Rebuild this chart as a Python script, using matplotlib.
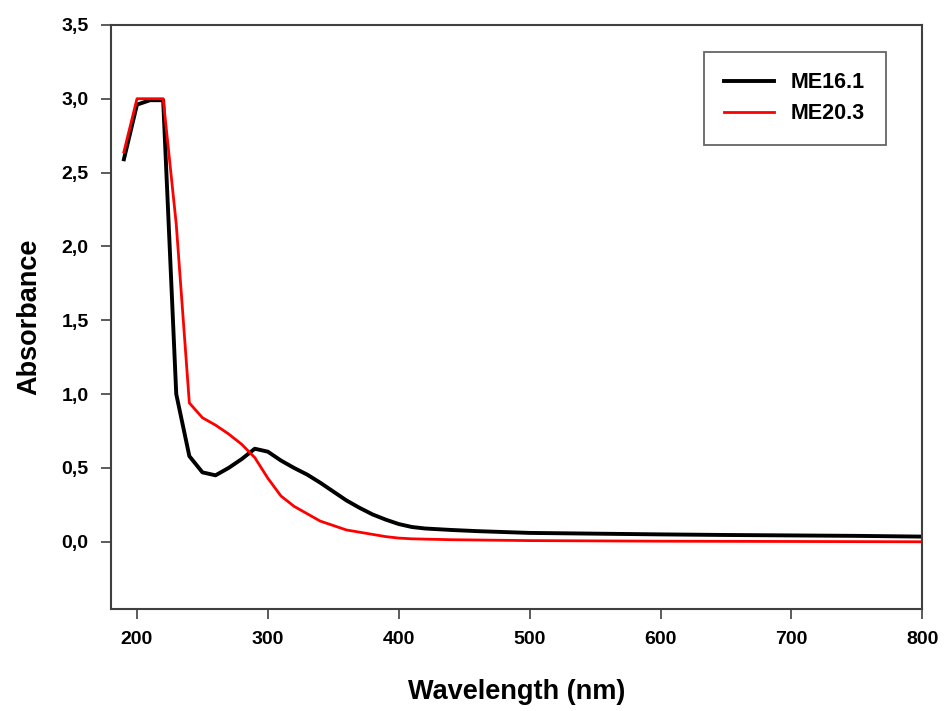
import matplotlib
matplotlib.use("Agg")
import matplotlib.pyplot as plt
from matplotlib.ticker import FuncFormatter

plt.rcParams['font.family'] = ['Liberation Sans', 'DejaVu Sans']
plt.rcParams['font.weight'] = 'bold'

# wavelength (nm) and absorbance
wl = [190, 200, 210, 220, 230, 240, 250, 260, 270, 280, 290, 300, 310, 320,
      330, 340, 350, 360, 370, 380, 390, 400, 410, 420, 440, 460, 480, 500,
      550, 600, 650, 700, 750, 800]
me16 = [2.59, 2.96, 2.99, 2.99, 1.00, 0.58, 0.47, 0.45, 0.50, 0.56, 0.63, 0.61,
        0.55, 0.50, 0.455, 0.40, 0.34, 0.28, 0.23, 0.185, 0.15, 0.12, 0.10,
        0.09, 0.08, 0.072, 0.066, 0.06, 0.055, 0.05, 0.046, 0.043, 0.04, 0.035]
me20 = [2.64, 3.00, 3.00, 3.00, 2.15, 0.94, 0.84, 0.79, 0.73, 0.66, 0.57, 0.43,
        0.31, 0.24, 0.19, 0.14, 0.11, 0.08, 0.065, 0.05, 0.035, 0.025, 0.02,
        0.018, 0.014, 0.012, 0.01, 0.008, 0.006, 0.004, 0.003, 0.002, 0.001, 0.0]

fig = plt.figure(figsize=(9.47, 7.11), dpi=100)
ax = fig.add_axes([0.117, 0.1435, 0.857, 0.8215])

ax.plot(wl, me16, color='black', lw=2.8, label='ME16.1')
ax.plot(wl, me20, color='red', lw=2.0, label='ME20.3')

ax.set_xlim(180, 800)
ax.set_ylim(-0.455, 3.5)
ax.set_xticks(range(200, 801, 100))
ax.set_yticks([0, 0.5, 1.0, 1.5, 2.0, 2.5, 3.0, 3.5])
ax.yaxis.set_major_formatter(FuncFormatter(lambda v, p: f"{v:.1f}".replace('.', ',')))

for s in ax.spines.values():
    s.set_color('#404040')
    s.set_linewidth(1.5)
ax.tick_params(direction='out', length=7, width=1.2, color='#404040',
               labelsize=14, pad=9)
for lab in ax.get_xticklabels() + ax.get_yticklabels():
    lab.set_fontweight('bold')

ax.set_xlabel('Wavelength (nm)', fontsize=19.5, fontweight='bold', labelpad=22)
ax.set_ylabel('Absorbance', fontsize=19.5, fontweight='bold', labelpad=14)

leg = ax.legend(loc='upper right', bbox_to_anchor=(0.968, 0.972), fontsize=15.5,
                frameon=True, fancybox=False, edgecolor='#404040',
                handlelength=2.3, borderpad=0.95, labelspacing=0.45)
leg.get_frame().set_linewidth(1.3)

fig.savefig('out.png', dpi=100)
